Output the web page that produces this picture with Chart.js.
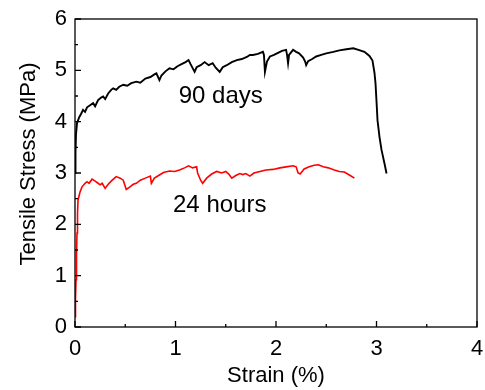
<!DOCTYPE html>
<html>
<head>
<meta charset="utf-8">
<script src="https://cdn.jsdelivr.net/npm/chart.js@4.4.0/dist/chart.umd.min.js"></script>
<style>
body { margin: 0; background: #fff; }
</style>
</head>
<body>
<canvas id="chart" width="485" height="390"></canvas>
<script>
/*--------------------DATA--------------------*/
// 90 days curve (black)
let strain90 = [0, 0.005, 0.01, 0.02, 0.04, 0.06, 0.08, 0.10, 0.12, 0.15, 0.18, 0.20, 0.23, 0.26, 0.28, 0.30,
    0.33, 0.36, 0.38, 0.41, 0.44, 0.48, 0.52, 0.56, 0.61, 0.65, 0.70, 0.75, 0.79, 0.81, 0.84, 0.86, 0.90,
    0.94, 0.98, 1.02, 1.06, 1.10, 1.13, 1.15, 1.19, 1.21, 1.25, 1.29, 1.33, 1.37, 1.40, 1.44, 1.47, 1.51,
    1.56, 1.61, 1.66, 1.71, 1.74, 1.77, 1.82, 1.87, 1.88, 1.89, 1.91, 1.94, 1.98, 2.02, 2.06, 2.10, 2.11,
    2.12, 2.13, 2.17, 2.20, 2.23, 2.27, 2.29, 2.30, 2.32, 2.36, 2.40, 2.45, 2.50, 2.57, 2.63, 2.70, 2.77,
    2.82, 2.88, 2.93, 2.96, 2.98, 2.99, 3.00, 3.01, 3.03, 3.05, 3.08, 3.10];
let stress90 = [3.0, 3.4, 3.75, 3.97, 4.08, 4.15, 4.23, 4.19, 4.28, 4.32, 4.36, 4.30, 4.42, 4.47, 4.49, 4.44,
    4.55, 4.62, 4.65, 4.62, 4.68, 4.72, 4.70, 4.75, 4.78, 4.76, 4.84, 4.87, 4.92, 4.94, 4.81, 4.90, 4.98,
    5.04, 5.02, 5.08, 5.12, 5.16, 5.20, 5.12, 4.97, 5.06, 5.10, 5.16, 5.10, 5.14, 5.05, 4.97, 5.06, 5.10,
    5.16, 5.20, 5.22, 5.26, 5.30, 5.30, 5.32, 5.36, 5.30, 4.97, 5.17, 5.27, 5.30, 5.34, 5.38, 5.40, 5.30,
    5.14, 5.30, 5.40, 5.36, 5.33, 5.25, 5.17, 5.10, 5.18, 5.22, 5.27, 5.30, 5.33, 5.36, 5.39, 5.41, 5.43,
    5.40, 5.36, 5.28, 5.19, 4.95, 4.75, 4.40, 4.03, 3.70, 3.45, 3.18, 2.99];

// 24 hours curve (red)
let strain24 = [0, 0.005, 0.01, 0.015, 0.02, 0.025, 0.03, 0.05, 0.07, 0.10, 0.12, 0.14, 0.17, 0.20, 0.23, 0.25,
    0.27, 0.30, 0.33, 0.37, 0.41, 0.45, 0.48, 0.51, 0.54, 0.58, 0.61, 0.65, 0.70, 0.75, 0.76, 0.79, 0.84,
    0.88, 0.94, 0.99, 1.04, 1.09, 1.13, 1.17, 1.21, 1.22, 1.25, 1.27, 1.31, 1.36, 1.41, 1.46, 1.50, 1.53,
    1.56, 1.60, 1.64, 1.67, 1.70, 1.74, 1.78, 1.84, 1.90, 1.97, 2.04, 2.10, 2.17, 2.20, 2.22, 2.24, 2.28,
    2.33, 2.38, 2.42, 2.47, 2.52, 2.58, 2.63, 2.68, 2.73, 2.78];
let stress24 = [0.2, 0.55, 0.92, 1.40, 1.83, 2.20, 2.47, 2.63, 2.73, 2.80, 2.83, 2.80, 2.88, 2.84, 2.80, 2.77,
    2.80, 2.70, 2.78, 2.86, 2.93, 2.90, 2.86, 2.68, 2.72, 2.78, 2.80, 2.86, 2.90, 2.94, 2.80, 2.90, 2.96,
    3.01, 3.04, 3.03, 3.06, 3.10, 3.14, 3.10, 3.12, 3.00, 2.86, 2.80, 2.90, 2.98, 3.03, 3.00, 3.03, 2.98,
    2.90, 2.95, 2.99, 2.97, 2.99, 2.94, 3.00, 3.03, 3.06, 3.07, 3.10, 3.12, 3.14, 3.12, 3.00, 2.98, 3.08,
    3.12, 3.15, 3.16, 3.12, 3.10, 3.06, 3.03, 3.02, 2.96, 2.90];

let xTicks = [0, 1, 2, 3, 4];
let yTicks = [0, 1, 2, 3, 4, 5, 6];
let curveLabels = [
    { text: '90 days', x: 1.45, y: 4.36 },
    { text: '24 hours', x: 1.44, y: 2.25 }
];

/*--------------------PLUGINS--------------------*/
const FONT = '"Liberation Sans", Arial, sans-serif';

// box around the plot and inward ticks (major + half step minor)
const frameTicks = {
    id: 'frameTicks',
    afterDatasetsDraw(chart) {
        const { ctx, chartArea: a, scales: { x, y } } = chart;
        ctx.save();
        ctx.strokeStyle = '#000';
        ctx.lineWidth = 1.3;
        ctx.strokeRect(a.left, a.top, a.right - a.left, a.bottom - a.top);
        ctx.beginPath();
        for (let i = 0; i < xTicks.length; i++) {
            let px = x.getPixelForValue(xTicks[i]);
            ctx.moveTo(px, a.bottom); ctx.lineTo(px, a.bottom - 6);
            if (i < xTicks.length - 1) {
                let mx = x.getPixelForValue((xTicks[i] + xTicks[i + 1]) / 2);
                ctx.moveTo(mx, a.bottom); ctx.lineTo(mx, a.bottom - 3);
            }
        }
        for (let i = 0; i < yTicks.length; i++) {
            let py = y.getPixelForValue(yTicks[i]);
            ctx.moveTo(a.left, py); ctx.lineTo(a.left + 6, py);
            if (i < yTicks.length - 1) {
                let my = y.getPixelForValue((yTicks[i] + yTicks[i + 1]) / 2);
                ctx.moveTo(a.left, my); ctx.lineTo(a.left + 3, my);
            }
        }
        ctx.stroke();
        ctx.restore();
    }
};

// axis titles and curve labels
const texts = {
    id: 'texts',
    afterDraw(chart) {
        const { ctx, chartArea: a, scales: { x, y } } = chart;
        ctx.save();
        ctx.fillStyle = '#000';
        ctx.font = '24px ' + FONT;
        ctx.textAlign = 'center';
        ctx.textBaseline = 'alphabetic';
        curveLabels.forEach(l => ctx.fillText(l.text, x.getPixelForValue(l.x), y.getPixelForValue(l.y)));

        ctx.font = '22px ' + FONT;
        ctx.textBaseline = 'middle';
        ctx.fillText('Strain (%)', (a.left + a.right) / 2, 376);
        ctx.translate(29, 164);
        ctx.rotate(-Math.PI / 2);
        ctx.fillText('Tensile Stress (MPa)', 0, 0);
        ctx.restore();
    }
};

/*--------------------CHART--------------------*/
let canvas = document.getElementById('chart');
let chart = new Chart(canvas, {
    type: 'scatter',
    data: {
        datasets: [
            {
                label: '90 days',
                data: strain90.map((v, i) => ({ x: v, y: stress90[i] })),
                borderColor: '#000000',
                borderWidth: 1.9
            },
            {
                label: '24 hours',
                data: strain24.map((v, i) => ({ x: v, y: stress24[i] })),
                borderColor: '#ff0000',
                borderWidth: 1.6
            }
        ]
    },
    options: {
        responsive: false,
        animation: false,
        showLine: true,
        elements: { point: { radius: 0 }, line: { tension: 0 } },
        layout: { padding: { left: 0, right: 8, top: 19, bottom: 0 } },
        plugins: { legend: { display: false }, tooltip: { enabled: false } },
        scales: {
            x: {
                type: 'linear', min: 0, max: 4,
                afterFit: s => { s.height = 63; s.paddingLeft = 0; s.paddingRight = 0; },
                afterBuildTicks: s => { s.ticks = xTicks.map(v => ({ value: v })); },
                grid: { display: false, drawTicks: false },
                border: { display: false },
                ticks: { color: '#000', padding: 9, font: { family: FONT, size: 22 } }
            },
            y: {
                type: 'linear', min: 0, max: 6,
                afterFit: s => { s.width = 75; s.paddingTop = 0; s.paddingBottom = 0; },
                afterBuildTicks: s => { s.ticks = yTicks.map(v => ({ value: v })); },
                grid: { display: false, drawTicks: false },
                border: { display: false },
                ticks: { color: '#000', padding: 8, font: { family: FONT, size: 22 } }
            }
        }
    },
    plugins: [frameTicks, texts]
});
</script>
</body>
</html>
